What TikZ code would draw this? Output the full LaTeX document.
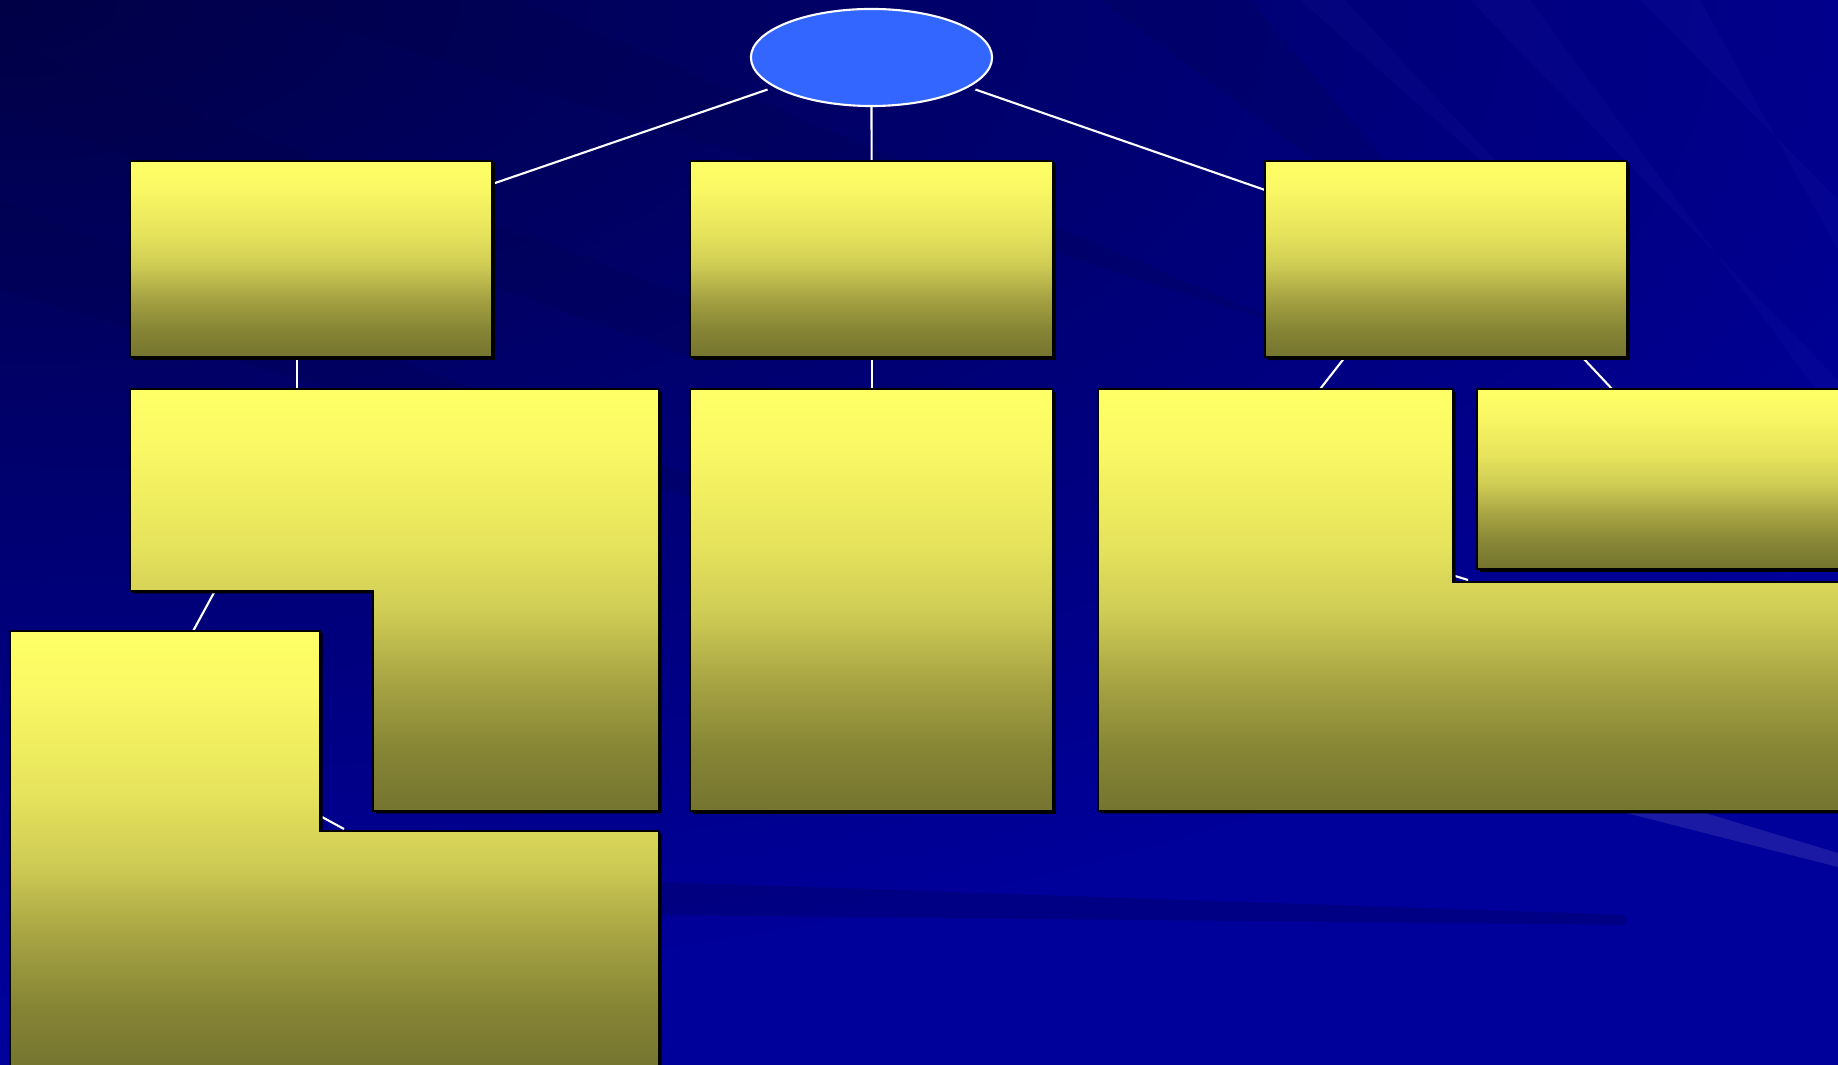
\documentclass[tikz,border=0pt]{standalone}
\usepackage{tikz}
\usetikzlibrary{positioning,shapes.geometric,shadows,backgrounds}
\definecolor{navyback}{HTML}{00009A}
\definecolor{deepnavy}{HTML}{000046}
\definecolor{chiefblue}{HTML}{3366FF}
\definecolor{lemon}{HTML}{FFFF66}
\definecolor{lemonA}{HTML}{FAF864}
\definecolor{lemonB}{HTML}{E6E35C}
\definecolor{lemonC}{HTML}{CFCC55}
\definecolor{lemonD}{HTML}{A8A544}
\definecolor{lemonE}{HTML}{878635}
\definecolor{darkolive}{HTML}{747430}
\pgfdeclareverticalshading{plaque}{100bp}{color(0bp)=(darkolive); color(25bp)=(darkolive);
  color(32.5bp)=(lemonE); color(40.5bp)=(lemonD); color(48.5bp)=(lemonC); color(56.5bp)=(lemonB);
  color(68bp)=(lemonA); color(75bp)=(lemon); color(100bp)=(lemon)}

\begin{document}
\begin{tikzpicture}[
    x=0.01cm,y=-0.01cm,
    box/.style={draw=black,line width=0.6pt,shade,shading=plaque,
      drop shadow={shadow xshift=0.25mm,shadow yshift=-0.25mm,fill=black,opacity=1}},
    card/.style={box,anchor=north west,inner sep=0pt,outer sep=0pt},
    chief/.style={ellipse,draw=white,line width=0.6pt,fill=chiefblue,minimum width=2.41cm,minimum height=0.97cm,inner sep=0pt},
    link/.style={draw=white,line width=0.6pt},
    darkband/.style={fill=deepnavy,opacity=0.18},
    lightband/.style={fill=blue!55!white,opacity=0.045}
  ]
  \useasboundingbox (0,0) rectangle (1838,1065);
  % background
  \begin{scope}[on background layer]
    \fill[navyback] (0,0) rectangle (1838,1065);
    \begin{scope}
      \clip (0,0) rectangle (1838,1065);
      \shade[inner color=deepnavy,outer color=navyback] (0,0) ellipse (2200 and 1000);
    \end{scope}
    \fill[darkband] (0,40) -- (0,110) -- (700,360) -- (700,300) -- cycle;
    \fill[darkband] (0,200) -- (0,290) -- (900,560) -- cycle;
    \fill[darkband] (250,0) -- (520,0) -- (1300,330) -- cycle;
    \fill[darkband] (1100,0) -- (1250,0) -- (1500,300) -- cycle;
    \fill[lightband] (1300,0) -- (1345,0) -- (1560,230) -- cycle;
    \fill[lightband] (1470,0) -- (1530,0) -- (1838,420) -- (1838,380) -- cycle;
    \fill[lightband] (1640,0) -- (1700,0) -- (1838,250) -- (1838,200) -- cycle;
    \fill[darkband,opacity=0.25] (659,882) -- (1626,915) -- (1626,925) -- (659,915) -- cycle;
    \fill[white,opacity=0.1] (1626,813) -- (1705,813) -- (1838,853) -- (1838,867) -- cycle;
  \end{scope}

  % top
  \node[chief] (chief) at (871.5,57.5) {};

  % first row
  \node[card,minimum width=3.62cm,minimum height=1.96cm] (boxA) at (130,161) {};
  \node[card,minimum width=3.63cm,minimum height=1.96cm] (boxB) at (690,161) {};
  \node[card,minimum width=3.62cm,minimum height=1.96cm] (boxC) at (1265,161) {};

  % second row
  \path[box] (130,389) coordinate (hookD) -- (659,389) -- (659,811) -- (373,811) -- (373,591) coordinate (notchD) -- (130,591) -- cycle;
  \node[card,minimum width=3.63cm,minimum height=4.22cm] (boxE) [below=0.32cm of boxB.south west,anchor=north west] {};
  \path[box] (1098,389) coordinate (hookF) -- (1453,389) -- (1453,582) coordinate (cornerF) -- (1860,582) -- (1860,811) -- (1098,811) -- cycle;
  \node[card,minimum width=3.83cm,minimum height=1.80cm] (boxG) at (1477,389) {};

  % third row
  \path[box] (10,631) coordinate (hookH) -- (320,631) -- (320,831) coordinate (cornerH) -- (659,831) -- (659,1070) -- (10,1070) -- cycle;

  % connectors
  \begin{scope}[on background layer]
    \draw[link,shorten <=0.07cm] (chief.197) -- ([yshift=-0.23cm]boxA.north east);
    \draw[link] ([yshift=0.06cm]chief.south) -- (boxB.north);
    \draw[link,shorten <=0.07cm] (chief.343) -- ([yshift=-0.29cm]boxC.north west);
    \draw[link] ([xshift=1.67cm]boxA.south west) -- ([xshift=1.67cm]hookD);
    \draw[link] (boxB.south) -- (boxE.north);
    \draw[link] ([xshift=0.8cm]boxC.south west) -- ([xshift=2.22cm]hookF);
    \draw[link] ([xshift=3.17cm]boxC.south west) -- ([xshift=1.35cm]boxG.north west);
    \draw[link] ([xshift=-1.58cm]notchD) -- ([xshift=1.83cm]hookH);
    \draw[link] ([shift={(2,-14)}]cornerH) -- ([shift={(24,-2)}]cornerH);
    \draw[link] ([shift={(2,-6)}]cornerF) -- ([shift={(15,-2)}]cornerF);
  \end{scope}
\end{tikzpicture}
\end{document}
